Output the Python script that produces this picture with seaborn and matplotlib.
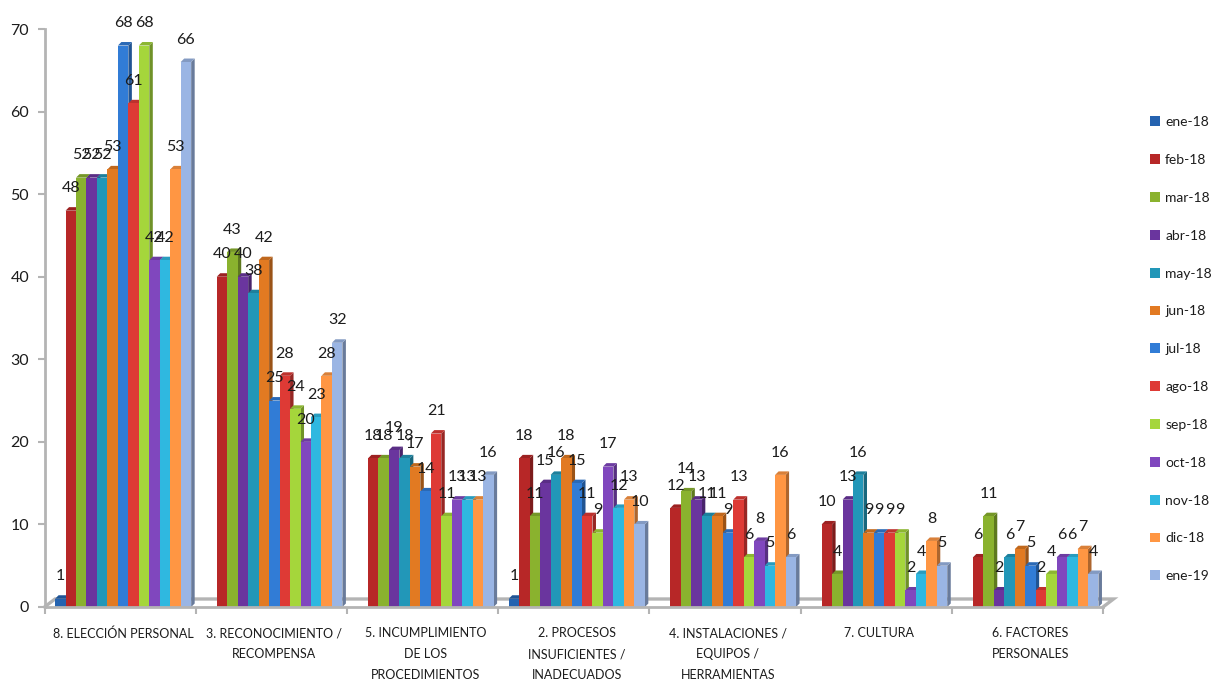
import pandas as pd
import numpy as np
import seaborn as sns
import matplotlib.pyplot as plt
from matplotlib.patches import Polygon
from matplotlib.colors import to_rgb

categorias = ['8. ELECCIÓN PERSONAL', '3. RECONOCIMIENTO /\nRECOMPENSA',
              '5. INCUMPLIMIENTO\nDE LOS\nPROCEDIMIENTOS',
              '2. PROCESOS\nINSUFICIENTES /\nINADECUADOS',
              '4. INSTALACIONES /\nEQUIPOS /\nHERRAMIENTAS',
              '7. CULTURA', '6. FACTORES\nPERSONALES']
meses = ['ene-18', 'feb-18', 'mar-18', 'abr-18', 'may-18', 'jun-18', 'jul-18',
         'ago-18', 'sep-18', 'oct-18', 'nov-18', 'dic-18', 'ene-19']
colores = ['#2563B0', '#B72727', '#8AB22E', '#6A359E', '#2297B8', '#E27A22', '#317CD6',
           '#DE3A35', '#A5D63B', '#8047BE', '#2FB8E0', '#FF9643', '#9AB5E4']

eleccion = [1, 48, 52, 52, 52, 53, 68, 61, 68, 42, 42, 53, 66]
reconocimiento = [None, 40, 43, 40, 38, 42, 25, 28, 24, 20, 23, 28, 32]
incumplimiento = [None, 18, 18, 19, 18, 17, 14, 21, 11, 13, 13, 13, 16]
procesos = [1, 18, 11, 15, 16, 18, 15, 11, 9, 17, 12, 13, 10]
instalaciones = [None, 12, 14, 13, 11, 11, 9, 13, 6, 8, 5, 16, 6]
cultura = [None, 10, 4, 13, 16, 9, 9, 9, 9, 2, 4, 8, 5]
factores = [None, 6, 11, 2, 6, 7, 5, 2, 4, 6, 6, 7, 4]
valores = [eleccion, reconocimiento, incumplimiento, procesos, instalaciones, cultura, factores]

filas = []
for c, serie in zip(categorias, valores):
    for m, v in zip(meses, serie):
        if v is not None:
            filas.append({'categoria': c, 'mes': m, 'valor': v})
df = pd.DataFrame(filas)

sns.set_style('white')
plt.rcParams['font.family'] = ['Lato', 'DejaVu Sans']
texto = '#1c1c1c'
gris = '#b4b4b4'

fig = plt.figure(figsize=(12.13, 6.84), dpi=100)
ax = fig.add_axes([44.5 / 1213, 1 - 607 / 684, (1103 - 44.5) / 1213, (607 - 29) / 684])

sns.barplot(data=df, x='categoria', y='valor', hue='mes', order=categorias, hue_order=meses,
            palette=colores, width=0.9, gap=0, saturation=1, linewidth=0, ax=ax)

ax.set_xlim(-0.52, 6.48)
ax.set_ylim(0, 70)
ax.set_xlabel('')
ax.set_ylabel('')

# pixel to data units, for the fake 3d depth
px_x = 7 / (1103 - 44.5)
px_y = 70 / (607 - 29)
dx, dy = 3.5 * px_x, 3.5 * px_y

for i, cont in enumerate(ax.containers):
    base = to_rgb(colores[i])
    lado = tuple(c * 0.68 for c in base)
    tapa = tuple(c * 0.85 for c in base)
    for bar in cont:
        bar.set_zorder(5 + i * 0.1 + 0.05)
        x0, x1, h = bar.get_x(), bar.get_x() + bar.get_width(), bar.get_height()
        ax.add_patch(Polygon([(x1, 0), (x1 + dx, dy), (x1 + dx, h + dy), (x1, h)], closed=True,
                             fc=lado, ec='none', zorder=5 + i * 0.1, clip_on=False))
        ax.add_patch(Polygon([(x0, h), (x0 + dx, h + dy), (x1 + dx, h + dy), (x1, h)], closed=True,
                             fc=tapa, ec='none', zorder=5 + i * 0.1, clip_on=False))
    etiquetas = ax.bar_label(cont, fmt='%d', padding=11, fontsize=11.5, color=texto)
    for t in etiquetas:
        t.set_zorder(20)
        t.set_clip_on(False)

# floor of the 3d box
fx0, fx1 = ax.get_xlim()
fdx, fdy = 10.5 * px_x, 8 * px_y
ax.plot([fx0, fx0 + fdx, fx1 + fdx, fx1], [0, fdy, fdy, 0], color=gris, lw=2.4,
        clip_on=False, zorder=2, solid_joinstyle='miter')

sns.despine(ax=ax, top=True, right=True)
for lado_eje in ['left', 'bottom']:
    ax.spines[lado_eje].set_color(gris)
    ax.spines[lado_eje].set_linewidth(2)
    ax.spines[lado_eje].set_zorder(10)

ax.set_yticks(range(0, 71, 10))
ax.tick_params(axis='y', left=True, length=5, width=1.5, color=gris, labelsize=11.5,
               labelcolor=texto, pad=6)
ax.set_xticks(range(len(categorias)))
ax.set_xticklabels(categorias, linespacing=1.9, va='top')
ax.set_xticks([fx0 + k for k in range(8)], minor=True)
ax.tick_params(axis='x', which='major', bottom=False, labelsize=9, labelcolor=texto, pad=11)
ax.tick_params(axis='x', which='minor', bottom=True, length=5, width=1.5, color=gris)

h, l = ax.get_legend_handles_labels()
ax.legend(h, l, loc='center left', bbox_to_anchor=(1.044, 0.446), frameon=False,
          fontsize=10, labelcolor=texto, handlelength=0.72, handleheight=0.72, handletextpad=0.4,
          labelspacing=1.86, borderpad=0, borderaxespad=0)

fig.savefig('out.png', dpi=100)
